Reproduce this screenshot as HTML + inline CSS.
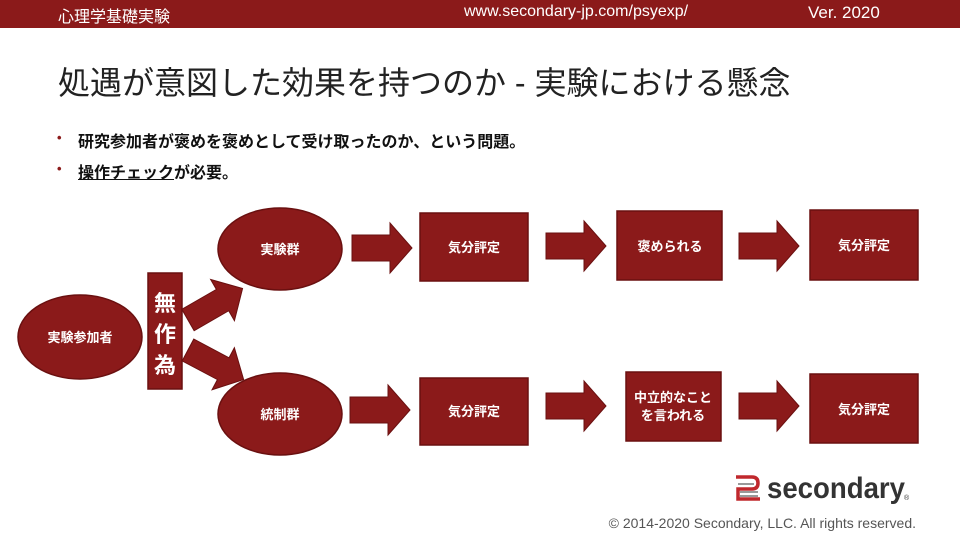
<!DOCTYPE html>
<html><head><meta charset="utf-8"><style>
body{margin:0;width:960px;height:540px;position:relative;background:#fff;font-family:"Liberation Sans","Noto Sans CJK JP",sans-serif;overflow:hidden}
.hdr{position:absolute;left:0;top:0;width:960px;height:28px;background:#8b1a1a;color:#fff;font-size:16px}
.hdr span{position:absolute;top:3px}
.t{position:absolute;left:58px;top:58px;font-size:32px;color:#222;white-space:nowrap}
.b{position:absolute;left:60px;font-size:16px;color:#111;font-weight:bold}
.b:before{content:"•";color:#8b1a1a;position:absolute;left:-3px;font-size:13px;top:2px}
.b span{padding-left:18px}
.cp{position:absolute;right:44px;top:515px;font-size:14px;color:#555}
</style></head><body>
<div class="hdr"><span style="left:58px">心理学基礎実験</span><span style="left:464px">www.secondary-jp.com/psyexp/</span><span style="left:808px;font-size:17px">Ver. 2020</span></div>
<div class="t">処遇が意図した効果を持つのか - 実験における懸念</div>
<div class="b" style="top:128px"><span>研究参加者が褒めを褒めとして受け取ったのか、という問題。</span></div>
<div class="b" style="top:159px"><span><u>操作チェック</u>が必要。</span></div>
<svg width="960" height="540" style="position:absolute;left:0;top:0" font-family="Liberation Sans,Noto Sans CJK JP,sans-serif">
<defs><g id="ar"><polygon points="0,-13 38,-13 38,-25 60,0 38,25 38,13 0,13" fill="#8b1a1a" stroke="#6a1010" stroke-width="1"/></g></defs>
<g fill="#8b1a1a" stroke="#6a1010" stroke-width="1.5">
<ellipse cx="80" cy="337" rx="62" ry="42"/>
<rect x="148" y="273" width="34" height="116"/>
<ellipse cx="280" cy="249" rx="62" ry="41"/>
<ellipse cx="280" cy="414" rx="62" ry="41"/>
<rect x="420" y="213" width="108" height="68"/>
<rect x="617" y="211" width="105" height="69"/>
<rect x="810" y="210" width="108" height="70"/>
<rect x="420" y="378" width="108" height="67"/>
<rect x="626" y="372" width="95" height="69"/>
<rect x="810" y="374" width="108" height="69"/>
</g>
<use href="#ar" transform="translate(188,320) rotate(-30) scale(1.05,0.95)"/>
<use href="#ar" transform="translate(188,350) rotate(28) scale(1.05,0.95)"/>
<use href="#ar" transform="translate(352,248)"/>
<use href="#ar" transform="translate(546,246)"/>
<use href="#ar" transform="translate(739,246)"/>
<use href="#ar" transform="translate(350,410)"/>
<use href="#ar" transform="translate(546,406)"/>
<use href="#ar" transform="translate(739,406)"/>
<g fill="#fff" font-size="13" text-anchor="middle" font-weight="bold">
<text x="80" y="342">実験参加者</text>
<text x="280" y="254">実験群</text>
<text x="280" y="419">統制群</text>
<text x="474" y="252">気分評定</text>
<text x="670" y="251">褒められる</text>
<text x="864" y="250">気分評定</text>
<text x="474" y="416">気分評定</text>
<text x="673" y="402">中立的なこと</text>
<text x="673" y="420">を言われる</text>
<text x="864" y="414">気分評定</text>
<g font-size="22"><text x="165" y="311">無</text><text x="165" y="342">作</text><text x="165" y="373">為</text></g>
</g>
<g transform="translate(732,474)">
<path d="M4,3 H20 Q26,3 26,9 Q26,15 20,15 H6 V25 H28" fill="none" stroke="#c0282d" stroke-width="3.5"/>
<rect x="6" y="9" width="16" height="2" fill="#999"/><rect x="8" y="17" width="18" height="2" fill="#999"/><rect x="8" y="21" width="18" height="2" fill="#999"/>
<text x="35" y="24" font-size="30" fill="#333" font-weight="bold" textLength="138" lengthAdjust="spacingAndGlyphs" font-family="Liberation Sans,sans-serif">secondary</text>
<text x="172" y="26" font-size="7" fill="#333">®</text>
</g>
</svg>
<div class="cp">© 2014-2020 Secondary, LLC. All rights reserved.</div>
</body></html>
